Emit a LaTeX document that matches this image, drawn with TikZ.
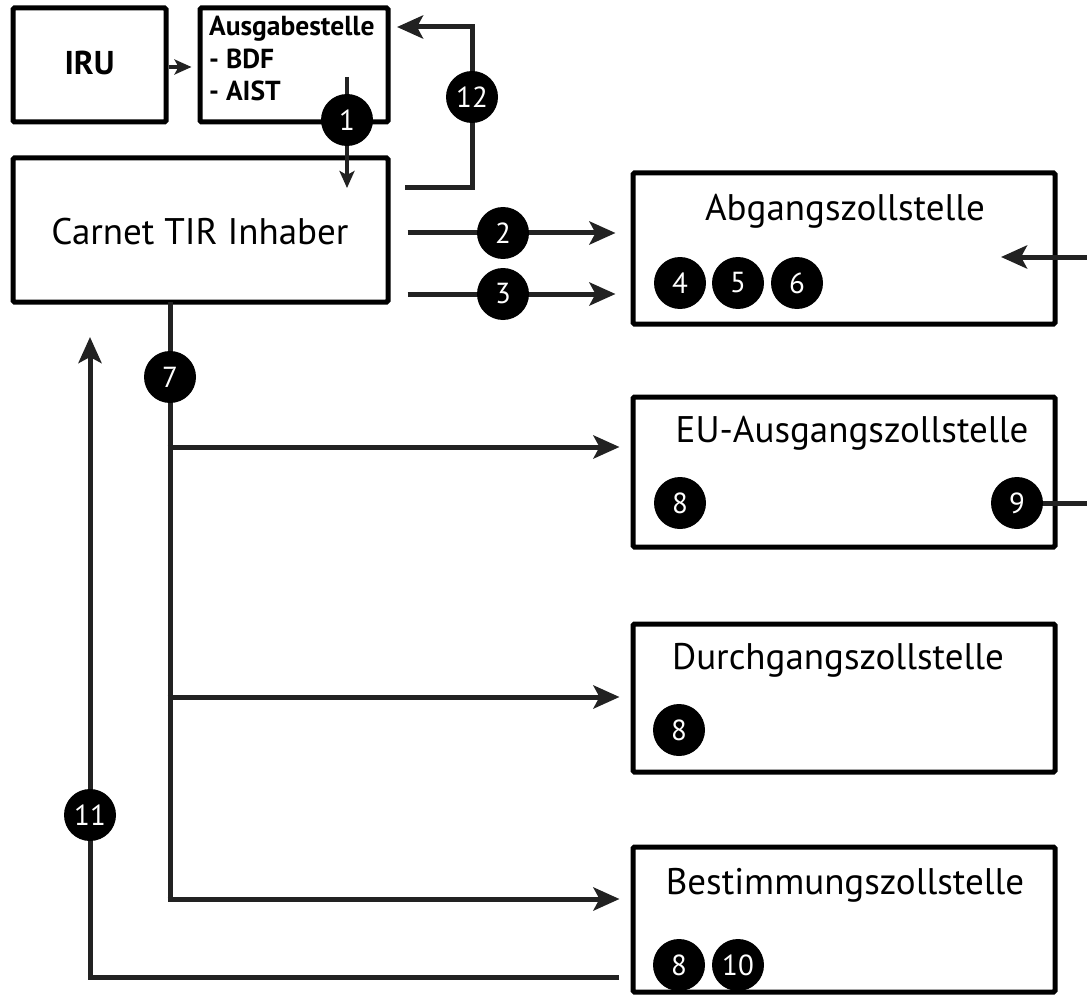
\documentclass[tikz,border=0pt]{standalone}
\usepackage{fontspec}
\setmainfont{PT Sans}
\usetikzlibrary{arrows.meta,calc}
\definecolor{lineclr}{HTML}{222222}
\tikzset{
  x=1pt, y=-1pt,
  box/.style={draw=black, line width=5pt, rounded corners=1.5pt, inner sep=0pt},
  title/.style={inner sep=0pt, font=\fontsize{37pt}{44pt}\selectfont},
  badge/.style={circle, fill=black, text=white, minimum size=52pt, inner sep=0pt,
                font=\fontsize{29pt}{32pt}\selectfont},
  conn/.style={draw=lineclr, line width=5pt},
  arr/.style={conn, -{Stealth[length=26pt,width=23pt,inset=6pt]}},
  smallarr/.style={conn, line width=4.5pt, -{Stealth[length=17pt,width=15pt,inset=4pt]}},
}
\begin{document}
\begin{tikzpicture}
\useasboundingbox (0,0) rectangle (1087,995);

% boxes
\node[box, minimum width=153pt, minimum height=114pt] (iru) at (89.5,65) {};
\node[inner sep=0pt, font=\bfseries\fontsize{33pt}{38pt}\selectfont] (irut) at (89.5,63) {IRU};
\node[box, minimum width=188pt, minimum height=114pt] (aus) at (294,65) {};
\node[inner sep=0pt, anchor=north west, align=left,
      font=\bfseries\fontsize{27.5pt}{32.5pt}\selectfont] (aust) at (209,16) {Ausgabestelle\\- BDF\\- AIST};
\node[box, minimum width=375pt, minimum height=144pt] (carnet) at (200.5,230) {};
\node[title] (carnett) at (200,232) {Carnet TIR Inhaber};

\node[box, minimum width=422pt, minimum height=151pt] (abg) at (844,248.5) {};
\node[title] (abgt) at (845,211) {Abgangszollstelle};
\node[box, minimum width=422pt, minimum height=150pt] (eu) at (844,472) {};
\node[title] (eut) at (852,433) {EU-Ausgangszollstelle};
\node[box, minimum width=422pt, minimum height=148pt] (dur) at (844,698) {};
\node[title] (durt) at (838,660) {Durchgangszollstelle};
\node[box, minimum width=422pt, minimum height=145pt] (bes) at (844,919.5) {};
\node[title] (best) at (845,885) {Bestimmungszollstelle};

% badges inside boxes
\node[badge] (b4) at (680,283) {4};
\node[badge] (b5) at (738,283) {5};
\node[badge] (b6) at (797,283) {6};
\node[badge] (b8a) at (680,503) {8};
\node[badge] (b8b) at (679,730) {8};
\node[badge] (b8c) at (679,965) {8};
\node[badge] (b10) at (738,965) {10};

% IRU -> Ausgabestelle
\draw[smallarr, shorten >=6pt] (iru.east |- 0,67) -- (aus.west |- 0,67);

% 1
\coordinate (c1s) at (347,77);
\coordinate (c1e) at (347,188);
\draw[smallarr] (c1s) -- (c1e);
\node[badge] (b1) at (347,120) {1};

% 12
\coordinate (c12s) at (405,188);
\coordinate (k12) at (472,188);
\coordinate (c12t) at (397,27);
\draw[arr] (c12s) -- (k12) |- (c12t);
\node[badge] (b12) at (472,97) {12};

% 2 and 3
\coordinate (y2) at (0,233);
\coordinate (y3) at (0,294);
\draw[arr, shorten <=17pt, shorten >=15pt] (carnet.east |- y2) -- (abg.west |- y2);
\draw[arr, shorten <=17pt, shorten >=15pt] (carnet.east |- y3) -- (abg.west |- y3);
\node[badge] (b2) at (503,233) {2};
\node[badge] (b3) at (503,294) {3};

% incoming arrow to Abgangszollstelle
\coordinate (cin) at (1092,257);
\coordinate (cint) at (1001,257);
\draw[arr] (cin) -- (cint);

% 9 outgoing line
\coordinate (c9e) at (1092,503);
\coordinate (c9s) at (1017,503);
\draw[conn] (c9s) -- (c9e);
\node[badge] (b9) at (c9s) {9};

% 7 trunk and branches
\coordinate (t7s) at (170,302);
\coordinate (t7a) at (170,447);
\coordinate (t7b) at (170,697);
\coordinate (t7c) at (170,899);
\draw[conn] (t7s) -- (t7c);
\draw[arr, shorten >=11pt] ([xshift=-2.5pt]t7a) -- (eu.west |- t7a);
\draw[arr, shorten >=11pt] ([xshift=-2.5pt]t7b) -- (dur.west |- t7b);
\draw[arr, shorten >=11pt] ([xshift=-2.5pt]t7c) -- (bes.west |- t7c);
\node[badge] (b7) at (170,377) {7};

% 11 return
\coordinate (c11s) at (619,977);
\coordinate (k11) at (90,977);
\coordinate (c11t) at (90,337);
\draw[arr] (c11s) -- (k11) -- (c11t);
\node[badge] (b11) at (90,815) {11};
\end{tikzpicture}
\end{document}
